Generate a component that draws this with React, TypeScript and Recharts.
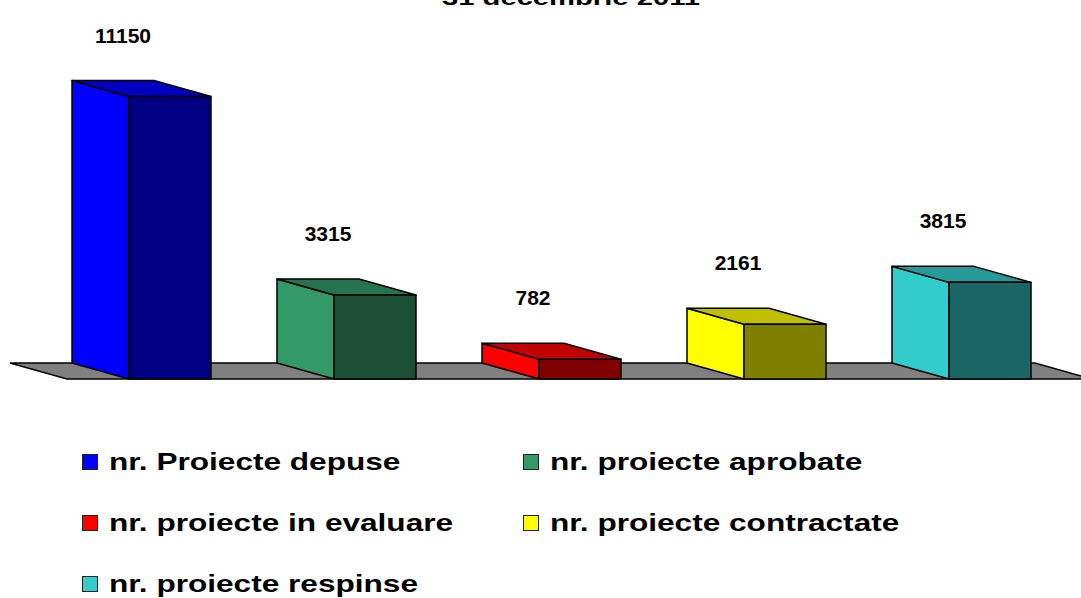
import { BarChart, Bar, XAxis, YAxis, ReferenceArea, Legend, LabelList } from "recharts";

const categories = [
  "nr. Proiecte depuse",
  "nr. proiecte aprobate",
  "nr. proiecte in evaluare",
  "nr. proiecte contractate",
  "nr. proiecte respinse",
];
const values = [11150, 3315, 782, 2161, 3815];
const titleText = "31 decembrie 2011";

// side / top / front shades for each category
const sideColors = ["#0000ff", "#339966", "#ff0000", "#ffff00", "#33cccc"];
const topColors = ["#0000c0", "#267350", "#c00000", "#c0c000", "#269999"];
const frontColors = ["#000080", "#1c4d35", "#800000", "#808000", "#1a6666"];

const data = categories.map((name, i) => ({ name, value: values[i] }));

const DX = 57;
const DY = 16;
const FONT = "'Liberation Sans', Arial, sans-serif";

function Box3D(props: any) {
  const { x, y, width: w, height: h, payload } = props;
  const i = categories.indexOf(payload.name);
  const stroke = { stroke: "#000", strokeWidth: 1.5, strokeLinejoin: "round" as const };
  return (
    <g>
      <polygon
        points={`${x - DX},${y - DY} ${x},${y} ${x},${y + h} ${x - DX},${y + h - DY}`}
        fill={sideColors[i]}
        {...stroke}
      />
      <polygon
        points={`${x - DX},${y - DY} ${x + w - DX},${y - DY} ${x + w},${y} ${x},${y}`}
        fill={topColors[i]}
        {...stroke}
      />
      <rect x={x} y={y} width={w} height={h} fill={frontColors[i]} {...stroke} />
    </g>
  );
}

function Floor(props: any) {
  const { x, y, width: w, height: h } = props;
  const b = y + h;
  return (
    <polygon
      points={`${x - DX},${b - DY} ${x + w - DX},${b - DY} ${x + w},${b} ${x},${b}`}
      fill="#808080"
      stroke="#000"
      strokeWidth={1.5}
    />
  );
}

function ValueLabel(props: any) {
  const { x, y, value } = props;
  return (
    <text
      x={x - 6}
      y={y - DY - 38}
      textAnchor="middle"
      fontFamily={FONT}
      fontWeight="bold"
      fontSize={21}
      fill="#000"
    >
      {value}
    </text>
  );
}

function LegendBlock() {
  return (
    <div
      style={{
        display: "grid",
        gridTemplateColumns: "441px auto",
        gridAutoRows: "61px",
        paddingLeft: 82,
        fontFamily: FONT,
        fontWeight: "bold",
        fontSize: 24,
        color: "#000",
      }}
    >
      {categories.map((c, i) => (
        <div key={c} style={{ display: "flex", alignItems: "center" }}>
          <span
            style={{
              width: 14,
              height: 14,
              background: sideColors[i],
              border: "1px solid #222",
              flex: "none",
            }}
          />
          <span
            style={{
              marginLeft: 11,
              display: "inline-block",
              whiteSpace: "nowrap",
              transform: "scaleX(1.316)",
              transformOrigin: "left center",
            }}
          >
            {c}
          </span>
        </div>
      ))}
    </div>
  );
}

export default function App() {
  return (
    <div
      style={{
        position: "absolute",
        left: 0,
        top: 0,
        width: 1081,
        height: 598,
        overflow: "hidden",
        background: "#fff",
      }}
    >
      <svg
        width={1081}
        height={30}
        style={{ position: "absolute", left: 0, top: 0, overflow: "visible" }}
      >
        <text
          x={571}
          y={5}
          textAnchor="middle"
          fontFamily={FONT}
          fontWeight="bold"
          fontSize={21}
          textLength={258}
          lengthAdjust="spacingAndGlyphs"
        >
          {titleText}
        </text>
      </svg>
      <BarChart
        width={1100}
        height={598}
        data={data}
        margin={{ top: 75, right: 8, bottom: 219, left: 67 }}
      >
        <XAxis dataKey="name" hide />
        <YAxis hide domain={[0, 12000]} />
        <ReferenceArea y1={0} y2={300} shape={<Floor />} ifOverflow="visible" />
        <Bar dataKey="value" barSize={82} shape={<Box3D />} isAnimationActive={false}>
          <LabelList dataKey="value" content={<ValueLabel />} />
        </Bar>
        <Legend
          layout="horizontal"
          verticalAlign="middle"
          align="center"
          content={<LegendBlock />}
          wrapperStyle={{ position: "absolute", top: 431, left: 0, width: 1081, height: 170 }}
        />
      </BarChart>
    </div>
  );
}
